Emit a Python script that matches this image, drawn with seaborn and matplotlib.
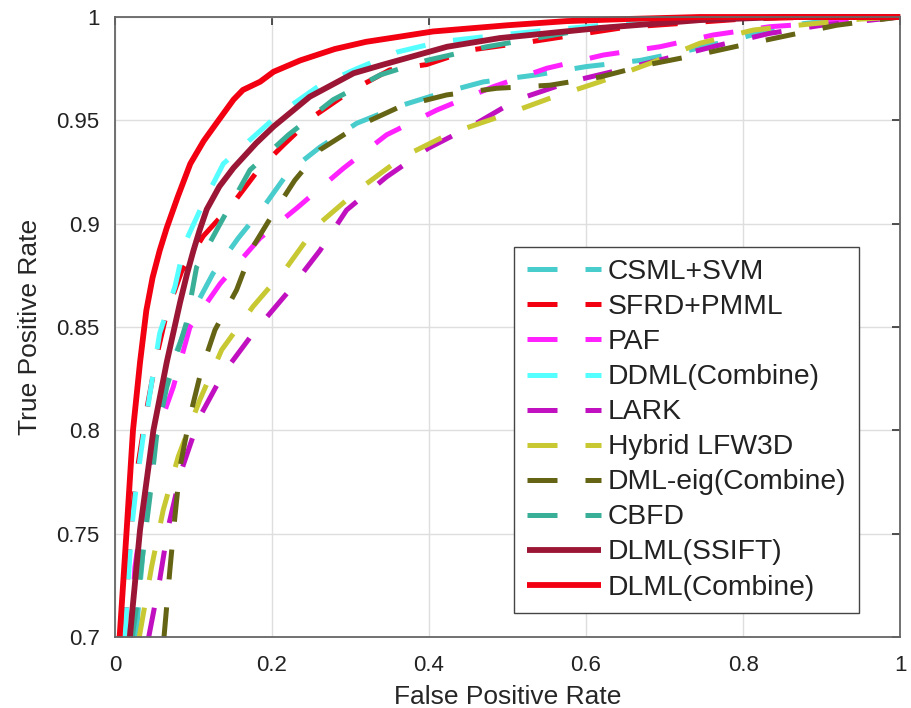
import numpy as np
import pandas as pd
import matplotlib
matplotlib.use("Agg")
import matplotlib.pyplot as plt
import seaborn as sns

# ROC curves (FPR, TPR)
methods = ['CSML+SVM', 'SFRD+PMML', 'PAF', 'DDML(Combine)', 'LARK',
           'Hybrid LFW3D', 'DML-eig(Combine)', 'CBFD', 'DLML(SSIFT)', 'DLML(Combine)']

csml_fpr = [0.027, 0.032, 0.039, 0.047, 0.057, 0.075, 0.0997, 0.125, 0.157, 0.189, 0.221, 0.261, 0.308,
            0.363, 0.414, 0.469, 0.537, 0.600, 0.669, 0.7325, 0.796, 0.860, 0.95, 1.0]
csml_tpr = [0.700, 0.725, 0.755, 0.785, 0.813, 0.835, 0.858, 0.876, 0.893, 0.908, 0.925, 0.937, 0.9486,
            0.957, 0.963, 0.9686, 0.972, 0.976, 0.979, 0.984, 0.9898, 0.996, 1.0, 1.0]

sfrd_fpr = [0.0127, 0.017, 0.0212, 0.0297, 0.0404, 0.053, 0.066, 0.085, 0.1125, 0.1507, 0.1826, 0.2144,
            0.2526, 0.2994, 0.350, 0.397, 0.452, 0.529, 0.65, 0.80, 0.90, 1.0]
sfrd_tpr = [0.700, 0.735, 0.758, 0.784, 0.810, 0.8357, 0.857, 0.877, 0.894, 0.910, 0.926, 0.938,
            0.9518, 0.964, 0.9744, 0.977, 0.984, 0.988, 0.995, 0.999, 1.0, 1.0]

paf_fpr = [0.020, 0.0255, 0.036, 0.050, 0.0743, 0.0955, 0.134, 0.1847, 0.2314, 0.291, 0.346, 0.41,
           0.482, 0.55, 0.622, 0.694, 0.762, 0.834, 0.90, 1.0]
paf_tpr = [0.700, 0.734, 0.7615, 0.795, 0.821, 0.850, 0.871, 0.893, 0.9075, 0.9268, 0.943, 0.955,
           0.9663, 0.9752, 0.9816, 0.9856, 0.9913, 0.9953, 0.997, 1.0]

ddml_fpr = [0.0127, 0.017, 0.0212, 0.0276, 0.036, 0.0467, 0.057, 0.0764, 0.089, 0.1125, 0.138, 0.172,
            0.210, 0.261, 0.308, 0.359, 0.414, 0.490, 0.554, 0.650, 0.800, 1.0]
ddml_tpr = [0.700, 0.7276, 0.752, 0.7745, 0.797, 0.8228, 0.847, 0.8695, 0.8905, 0.910, 0.929, 0.9405,
            0.9534, 0.967, 0.975, 0.983, 0.988, 0.9913, 0.9937, 0.997, 1.0, 1.0]

lark_fpr = [0.043, 0.057, 0.068, 0.085, 0.108, 0.138, 0.176, 0.219, 0.261, 0.295, 0.346, 0.399,
            0.4565, 0.512, 0.58, 0.643, 0.711, 0.771, 0.834, 0.90, 1.0]
lark_tpr = [0.700, 0.7276, 0.7534, 0.781, 0.8066, 0.8276, 0.847, 0.8663, 0.887, 0.9066, 0.9227, 0.9365,
            0.9477, 0.960, 0.9687, 0.9744, 0.9808, 0.9865, 0.9921, 0.996, 1.0]

hybrid_fpr = [0.031, 0.0467, 0.0615, 0.0806, 0.108, 0.136, 0.176, 0.219, 0.257, 0.312, 0.367, 0.427,
              0.49, 0.554, 0.618, 0.6815, 0.745, 0.813, 0.885, 0.95, 1.0]
hybrid_tpr = [0.700, 0.734, 0.7615, 0.7873, 0.8147, 0.839, 0.860, 0.879, 0.899, 0.917, 0.9324, 0.9437,
              0.9518, 0.9607, 0.9687, 0.9776, 0.9873, 0.9937, 0.9966, 0.999, 1.0]

dmleig_fpr = [0.0625, 0.070, 0.0764, 0.083, 0.0955, 0.110, 0.1274, 0.155, 0.176, 0.2017, 0.229, 0.261,
              0.308, 0.363, 0.4225, 0.486, 0.554, 0.618, 0.677, 0.741, 0.80, 0.86, 0.919, 1.0]
dmleig_tpr = [0.700, 0.7325, 0.7582, 0.7825, 0.8066, 0.829, 0.8486, 0.868, 0.889, 0.905, 0.921, 0.9357,
              0.947, 0.9566, 0.9623, 0.9655, 0.967, 0.971, 0.9768, 0.9816, 0.9865, 0.9913, 0.996, 1.0]

cbfd_fpr = [0.022, 0.0276, 0.036, 0.0446, 0.053, 0.066, 0.091, 0.104, 0.134, 0.172, 0.221, 0.278,
            0.338, 0.397, 0.4735, 0.60, 0.75, 0.85, 1.0]
cbfd_tpr = [0.700, 0.7147, 0.742, 0.768, 0.797, 0.821, 0.852, 0.879, 0.900, 0.926, 0.943, 0.960,
            0.972, 0.979, 0.9856, 0.994, 0.999, 1.0, 1.0]

ssift_fpr = [0.019, 0.032, 0.049, 0.066, 0.083, 0.092, 0.100, 0.108, 0.117, 0.133, 0.151, 0.180,
             0.202, 0.248, 0.304, 0.342, 0.423, 0.490, 0.618, 0.745, 0.850, 1.0]
ssift_tpr = [0.700, 0.752, 0.800, 0.833, 0.862, 0.876, 0.887, 0.897, 0.907, 0.918, 0.927, 0.939,
             0.947, 0.9614, 0.9728, 0.977, 0.9856, 0.9898, 0.9947, 0.9985, 1.0, 1.0]

comb_fpr = [0.006, 0.015, 0.023, 0.032, 0.040, 0.048, 0.057, 0.066, 0.080, 0.096, 0.113, 0.130,
            0.151, 0.163, 0.185, 0.202, 0.236, 0.280, 0.320, 0.363, 0.405, 0.500, 0.575, 0.650,
            0.745, 1.0]
comb_tpr = [0.700, 0.752, 0.800, 0.833, 0.858, 0.874, 0.887, 0.898, 0.913, 0.929, 0.940, 0.949,
            0.960, 0.9647, 0.9687, 0.9735, 0.979, 0.9845, 0.988, 0.9905, 0.993, 0.996, 0.998, 0.999,
            1.0, 1.0]

curves = [(csml_fpr, csml_tpr), (sfrd_fpr, sfrd_tpr), (paf_fpr, paf_tpr), (ddml_fpr, ddml_tpr),
          (lark_fpr, lark_tpr), (hybrid_fpr, hybrid_tpr), (dmleig_fpr, dmleig_tpr),
          (cbfd_fpr, cbfd_tpr), (ssift_fpr, ssift_tpr), (comb_fpr, comb_tpr)]

colors = ['#48CCCC', '#F20012', '#FF22FF', '#55FFFF', '#C010C0',
          '#C8C832', '#646414', '#3AAF98', '#9B1535', '#F20012']
solid = [False] * 8 + [True, True]

sns.set_theme(style='white')
plt.rcParams['font.family'] = ['Liberation Sans', 'DejaVu Sans']
plt.rcParams['text.color'] = '#222222'

fig = plt.figure(figsize=(9.12, 7.08), dpi=100)
ax = fig.add_axes([0.126, 0.100, 0.861, 0.876])

for name, (fpr, tpr), col, is_solid in zip(methods, curves, colors, solid):
    df = pd.DataFrame({'fpr': fpr, 'tpr': tpr})
    if is_solid:
        sns.lineplot(data=df, x='fpr', y='tpr', ax=ax, color=col, lw=4.2, label=name,
                     estimator=None, clip_on=False, solid_capstyle='butt', solid_joinstyle='round')
    else:
        sns.lineplot(data=df, x='fpr', y='tpr', ax=ax, color=col, lw=3.6, label=name,
                     estimator=None, clip_on=False, linestyle=(0, (6.0, 5.6)), dash_capstyle='butt')

ax.set_xlim(0, 1)
ax.set_ylim(0.7, 1)
ax.set_xticks([0, 0.2, 0.4, 0.6, 0.8, 1])
ax.set_xticklabels(['0', '0.2', '0.4', '0.6', '0.8', '1'])
ax.set_yticks([0.7, 0.75, 0.8, 0.85, 0.9, 0.95, 1])
ax.set_yticklabels(['0.7', '0.75', '0.8', '0.85', '0.9', '0.95', '1'])
ax.grid(True, color='#DEDEDE', lw=1.0)
ax.set_axisbelow(True)

for sp in ax.spines.values():
    sp.set_color('#666666')
    sp.set_linewidth(1.3)
    sp.set_visible(True)

ax.tick_params(axis='both', direction='in', length=6, width=1.2, color='#333333',
               top=True, right=True, labelcolor='#222222')
ax.tick_params(axis='x', labelsize=16, pad=13)
ax.tick_params(axis='y', labelsize=16, pad=11)

ax.set_xlabel('False Positive Rate', fontsize=19, labelpad=6)
ax.set_ylabel('True Positive Rate', fontsize=19, labelpad=10)

leg = ax.legend(loc='lower right', bbox_to_anchor=(0.948, 0.0387), borderaxespad=0,
                fontsize=20.3, handlelength=2.62, handletextpad=0.27, labelspacing=0.32,
                borderpad=0.45, fancybox=False, framealpha=1)
leg.get_frame().set_edgecolor('#444444')
leg.get_frame().set_linewidth(1.0)

fig.savefig('out.png', dpi=100)
